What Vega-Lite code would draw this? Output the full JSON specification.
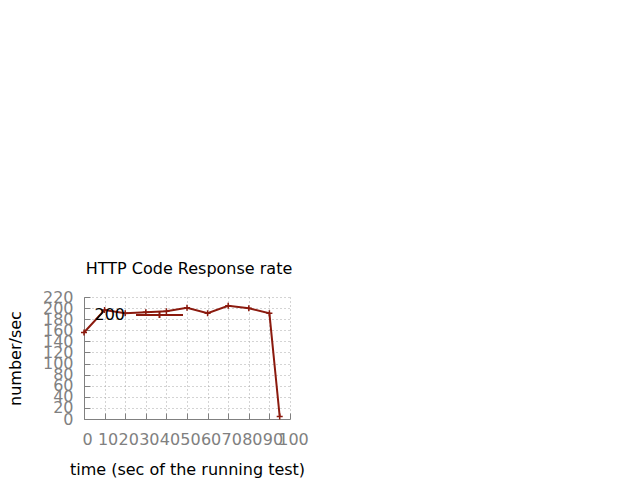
{
  "$schema": "https://vega.github.io/schema/vega-lite/v6.json",
  "autosize": "none",
  "width": 206,
  "height": 122,
  "padding": {"left": 84, "top": 297, "right": 350, "bottom": 61},
  "background": "white",
  "title": {"text": "HTTP Code Response rate", "fontSize": 16, "font": "DejaVu Sans", "fontWeight": "normal", "color": "black", "offset": 12, "dx": 2, "frame": "group"},
  "data": {"values": [
    {"t": 0, "rate": 156, "code": "200"},
    {"t": 10, "rate": 196.6, "code": "200"},
    {"t": 20, "rate": 190.6, "code": "200"},
    {"t": 30, "rate": 192.6, "code": "200"},
    {"t": 40, "rate": 194.5, "code": "200"},
    {"t": 50, "rate": 200.5, "code": "200"},
    {"t": 60, "rate": 190.6, "code": "200"},
    {"t": 70, "rate": 204, "code": "200"},
    {"t": 80, "rate": 199.6, "code": "200"},
    {"t": 90, "rate": 190.6, "code": "200"},
    {"t": 95, "rate": 4.5, "code": "200"}
  ]},
  "encoding": {
    "x": {"field": "t", "type": "quantitative", "scale": {"domain": [0, 100], "nice": false, "zero": false},
      "axis": {"values": [0,10,20,30,40,50,60,70,80,90,100], "title": "time (sec of the running test)", "labelFlush": false, "labelOffset": 3, "labelPadding": 18, "titlePadding": 14}},
    "y": {"field": "rate", "type": "quantitative", "scale": {"domain": [0, 220], "nice": false},
      "axis": {"values": [0,20,40,60,80,100,120,140,160,180,200,220], "title": "number/sec", "labelPadding": 17, "titlePadding": 19, "labelBaseline": "middle"}},
    "color": {"field": "code", "type": "nominal", "scale": {"range": ["#8b1a0e"]},
      "legend": {"title": null, "orient": "none", "legendX": 51, "legendY": -6.5, "padding": 0, "offset": 0,
        "symbolType": "M-1,0L1,0M0,-0.13L0,0.13", "symbolSize": 2209, "symbolStrokeWidth": 2, "symbolFillColor": "transparent",
        "labelFontSize": 16, "labelFont": "DejaVu Sans", "labelColor": "black", "labelAlign": "right", "labelOffset": -59, "labelBaseline": "middle"}}
  },
  "layer": [
    {"mark": {"type": "line", "strokeWidth": 2}},
    {"mark": {"type": "point", "shape": "M-1,0L1,0M0,-1L0,1", "size": 36, "filled": false, "strokeWidth": 1.5, "opacity": 1}}
  ],
  "config": {
    "view": {"stroke": null},
    "font": "DejaVu Sans",
    "axis": {
      "labelFont": "DejaVu Sans", "labelFontSize": 16, "labelColor": "#808080",
      "titleFont": "DejaVu Sans", "titleFontSize": 16, "titleFontWeight": "normal", "titleColor": "black",
      "domainColor": "#808080", "domainWidth": 1,
      "tickColor": "#808080", "tickSize": -6, "tickWidth": 1,
      "grid": true, "gridColor": "#a8a8a8", "gridDash": [1, 3], "gridWidth": 1,
      "labelOverlap": false
    }
  }
}
